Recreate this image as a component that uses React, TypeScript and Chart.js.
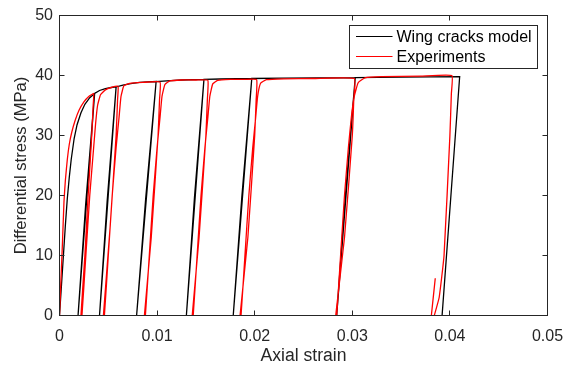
import React, { useEffect, useRef } from "react";
import { Chart, registerables } from "chart.js";

Chart.register(...registerables);

const xTickValues = [0, 0.01, 0.02, 0.03, 0.04, 0.05];
const xTickLabels = ["0", "0.01", "0.02", "0.03", "0.04", "0.05"];
const yTickValues = [0, 10, 20, 30, 40, 50];
const yTickLabels = ["0", "10", "20", "30", "40", "50"];
const seriesNames = ["Wing cracks model", "Experiments"];
const xTitle = "Axial strain";
const yTitle = "Differential stress (MPa)";

// Wing cracks model (black)
const modelStrain = [
  0, 0.0002, 0.0004, 0.0006, 0.0008, 0.001, 0.0012, 0.0015, 0.0018, 0.0022, 0.0026, 0.0031, 0.0036,
  0.00268, 0.0019, 0.0036,
  0.0041, 0.0047, 0.0053, 0.0058,
  0.00488, 0.0041, 0.0058,
  0.0065, 0.0073, 0.0082, 0.009, 0.0099,
  0.00883, 0.0079, 0.0099,
  0.011, 0.0125, 0.0148,
  0.01383, 0.013, 0.0148,
  0.0165, 0.0197,
  0.01868, 0.0178, 0.0197,
  0.023, 0.0265, 0.0303,
  0.02928, 0.0284, 0.0303,
  0.035, 0.041,
  0.0392,
];
const modelStress = [
  0, 5, 10, 15, 19.5, 23, 26, 29.5, 31.8, 33.8, 35.2, 36.3, 37.0,
  18.5, 0, 37.0,
  37.5, 37.8, 38.0, 38.1,
  19, 0, 38.1,
  38.4, 38.65, 38.85, 38.95, 39.0,
  19.5, 0, 39.0,
  39.1, 39.25, 39.35,
  19.7, 0, 39.35,
  39.42, 39.5,
  19.75, 0, 39.5,
  39.57, 39.62, 39.65,
  19.8, 0, 39.65,
  39.72, 39.8,
  0,
];

// Experiments (red)
const expStrain = [
  0, 0.0001, 0.0002, 0.0003, 0.00046, 0.0006, 0.0008, 0.001, 0.00125, 0.0016, 0.002, 0.0025, 0.003, 0.0035,
  0.00345, 0.0033, 0.0029, 0.0026, 0.0022,
  0.0023, 0.0027, 0.0031, 0.0035, 0.0037, 0.0039, 0.0042, 0.0047, 0.0053, 0.006,
  0.00595, 0.0058, 0.0052, 0.0045,
  0.0046, 0.005, 0.0054, 0.0058, 0.0061, 0.0063, 0.0066, 0.0072, 0.0085, 0.0103,
  0.01025, 0.0101, 0.0094, 0.0087,
  0.0088, 0.0092, 0.0096, 0.01, 0.0103, 0.0105, 0.0108, 0.0113, 0.0125, 0.014, 0.0152,
  0.01515, 0.015, 0.0143, 0.0136,
  0.0137, 0.0141, 0.0145, 0.0149, 0.0152, 0.0154, 0.0157, 0.0162, 0.0175, 0.019, 0.0202,
  0.02015, 0.02, 0.0193, 0.0185,
  0.0186, 0.019, 0.0194, 0.0198, 0.0201, 0.0203, 0.0206, 0.0212, 0.023, 0.026, 0.0302,
  0.03015, 0.03, 0.0292, 0.0283,
  0.0284, 0.0288, 0.0292, 0.0296, 0.0299, 0.0302, 0.0306, 0.0313, 0.033, 0.037, 0.0402,
  0.04015, 0.04, 0.0394, 0.0389, 0.0384,
  0.0383,
  0.0381, 0.0385,
];
const expStress = [
  0, 4, 8, 12, 19, 22.5, 26, 28.5, 30.5, 32.5, 34.2, 35.6, 36.5, 37.0,
  35, 30, 19, 10, 0,
  0, 10, 20, 28, 32, 35, 36.8, 37.6, 38.0, 38.2,
  36, 30, 15, 0,
  0, 10, 20, 28, 33, 36.5, 38.3, 38.7, 38.85, 38.9,
  36, 30, 13, 0,
  0, 10, 20, 28, 33, 36.5, 38.5, 39.1, 39.25, 39.25, 39.2,
  36, 30, 13, 0,
  0, 10, 20, 28, 33, 36.5, 38.6, 39.2, 39.35, 39.35, 39.3,
  36, 30, 13, 0,
  0, 10, 20, 28, 33, 36.5, 38.7, 39.3, 39.45, 39.5, 39.5,
  36, 30, 13, 0,
  0, 10, 20, 28, 33, 36.5, 38.8, 39.6, 39.8, 39.9, 40.0,
  37, 30, 10, 3, 0,
  null,
  0, 6.2,
];

const seriesColors = ["#000000", "#ff0000"];
const textColor = "#262626";
const fontFamily = "'Liberation Sans', Arial, Helvetica, sans-serif";

const framePlugin = {
  id: "matlabFrame",
  afterDraw(chart: any) {
    const { ctx, chartArea: a, scales } = chart;
    ctx.save();
    ctx.strokeStyle = textColor;
    ctx.lineWidth = 1;
    ctx.strokeRect(a.left, a.top, a.right - a.left, a.bottom - a.top);
    const tl = 5;
    ctx.beginPath();
    xTickValues.forEach((v) => {
      const px = Math.floor(scales.x.getPixelForValue(v)) + 0.5;
      ctx.moveTo(px, a.bottom);
      ctx.lineTo(px, a.bottom - tl);
      ctx.moveTo(px, a.top);
      ctx.lineTo(px, a.top + tl);
    });
    yTickValues.forEach((v) => {
      const py = Math.floor(scales.y.getPixelForValue(v)) + 0.5;
      ctx.moveTo(a.left, py);
      ctx.lineTo(a.left + tl, py);
      ctx.moveTo(a.right, py);
      ctx.lineTo(a.right - tl, py);
    });
    ctx.stroke();

    // legend box (inside, north-east)
    const w = 188;
    const h = 43;
    const left = Math.round(a.right - 11 - w) + 0.5;
    const top = Math.round(a.top + 9.5) + 0.5;
    ctx.fillStyle = "#ffffff";
    ctx.fillRect(left, top, w, h);
    ctx.strokeStyle = textColor;
    ctx.strokeRect(left, top, w, h);
    ctx.font = `16px ${fontFamily}`;
    ctx.textBaseline = "middle";
    ctx.textAlign = "left";
    seriesNames.forEach((name, i) => {
      const y = top + 11 + i * 20;
      ctx.strokeStyle = seriesColors[i];
      ctx.lineWidth = 1.2;
      ctx.beginPath();
      ctx.moveTo(left + 6.5, y);
      ctx.lineTo(left + 43, y);
      ctx.stroke();
      ctx.fillStyle = "#000000";
      ctx.fillText(name, left + 47, y + 1);
    });
    ctx.restore();
  },
};

export default function App() {
  const ref = useRef<HTMLCanvasElement | null>(null);
  useEffect(() => {
    if (!ref.current) return;
    const model = modelStrain.map((x, i) => ({ x, y: modelStress[i] }));
    const exp = expStrain.map((x, i) => ({ x, y: expStress[i] }));
    const chart = new Chart(ref.current, {
      type: "line",
      data: {
        datasets: [
          {
            label: seriesNames[0],
            data: model,
            borderColor: seriesColors[0],
            borderWidth: 1.3,
            pointRadius: 0,
            tension: 0,
            order: 1,
          },
          {
            label: seriesNames[1],
            data: exp,
            borderColor: seriesColors[1],
            borderWidth: 1.3,
            pointRadius: 0,
            tension: 0.12,
            spanGaps: false,
            order: 0,
          },
        ],
      },
      options: {
        animation: false,
        responsive: false,
        parsing: true,
        layout: { padding: { top: 15.5, right: 18.5, left: 0, bottom: 0 } },
        plugins: { legend: { display: false }, tooltip: { enabled: false } },
        scales: {
          x: {
            type: "linear",
            min: 0,
            max: 0.05,
            grid: { display: false, drawTicks: false },
            border: { display: false },
            afterBuildTicks: (s: any) => {
              s.ticks = xTickValues.map((v) => ({ value: v }));
            },
            afterFit: (s: any) => {
              s.height = 56.5;
              s.paddingLeft = 0;
              s.paddingRight = 0;
            },
            ticks: {
              autoSkip: false,
              maxRotation: 0,
              padding: 11,
              color: textColor,
              font: { family: fontFamily, size: 16 },
              callback: (_v: any, i: number) => xTickLabels[i],
            },
            title: {
              display: true,
              text: xTitle,
              color: textColor,
              font: { family: fontFamily, size: 17.6 },
              padding: { top: 0, bottom: 5.4 },
            },
          },
          y: {
            type: "linear",
            min: 0,
            max: 50,
            grid: { display: false, drawTicks: false },
            border: { display: false },
            afterBuildTicks: (s: any) => {
              s.ticks = yTickValues.map((v) => ({ value: v }));
            },
            afterFit: (s: any) => {
              s.width = 59.5;
              s.paddingTop = 0;
              s.paddingBottom = 0;
            },
            ticks: {
              autoSkip: false,
              padding: 6.5,
              color: textColor,
              font: { family: fontFamily, size: 16 },
              callback: (_v: any, i: number) => yTickLabels[i],
            },
            title: {
              display: true,
              text: yTitle,
              color: textColor,
              font: { family: fontFamily, size: 16.6 },
              padding: { top: 11, bottom: 0 },
            },
          },
        },
      },
      plugins: [framePlugin],
    });
    return () => chart.destroy();
  }, []);
  return (
    <div style={{ position: "fixed", left: 0, top: 0, width: 566, height: 372, background: "#fff" }}>
      <canvas ref={ref} width={566} height={372} style={{ width: 566, height: 372 }} />
    </div>
  );
}
